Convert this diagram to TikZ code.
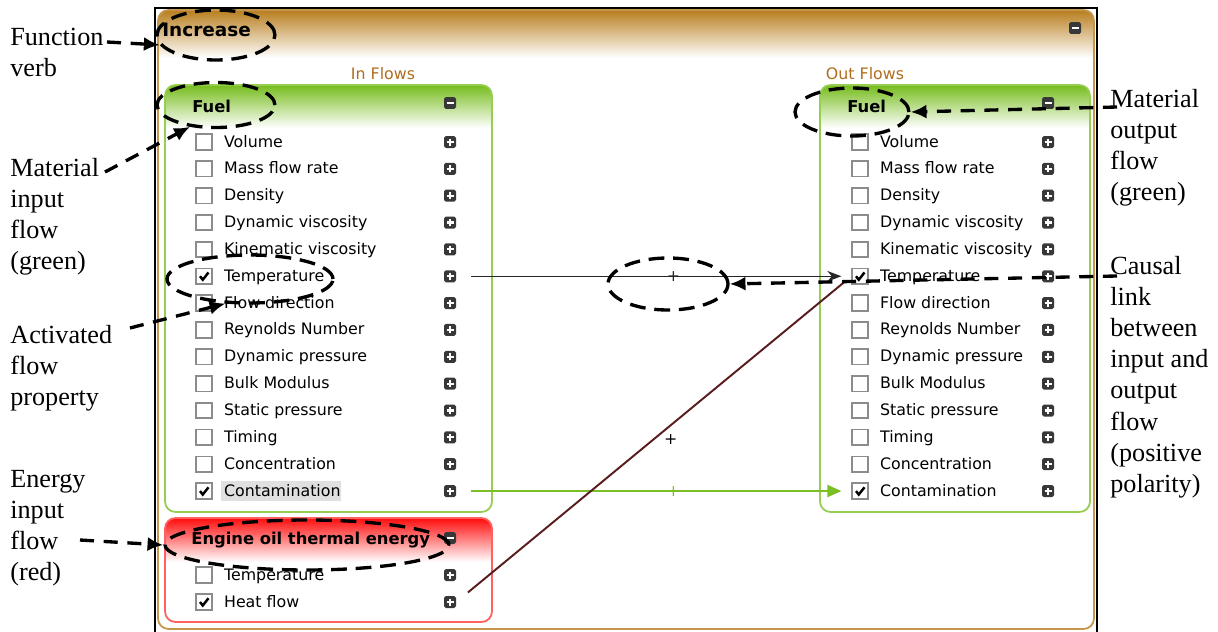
\documentclass[tikz,border=0pt]{standalone}
\usepackage{fontspec}
\setmainfont{Liberation Serif}
\newfontfamily\uifont{DejaVu Sans}
\usetikzlibrary{positioning, arrows.meta, shapes.geometric}
\definecolor{goldbar}{RGB}{184,126,30}
\definecolor{goldline}{RGB}{198,150,78}
\definecolor{goldtext}{RGB}{176,110,30}
\definecolor{greenbar}{RGB}{118,188,28}
\definecolor{greenline}{RGB}{150,206,82}
\definecolor{redbar}{RGB}{255,12,12}
\definecolor{redline}{RGB}{255,96,96}
\definecolor{linkbrown}{RGB}{88,28,30}
\definecolor{linkgreen}{RGB}{122,192,36}
% panel: x1,y1,x2,y2, bottom of header, header colour, border colour
\newcommand{\uipanel}[7]{%
  \begin{scope}
    \clip[rounded corners=6pt] (#1,#2) rectangle (#3,#4);
    \fill[white] (#1,#2) rectangle (#3,#4);
    \shade[top color=#6, bottom color=white] (#1,#2) rectangle (#3,#5);
  \end{scope}
  \draw[#7, line width=1pt, rounded corners=6pt] (#1,#2) rectangle (#3,#4);
}

\begin{document}
\begin{tikzpicture}[x=0.02cm, y=-0.02cm,
    ui/.style={font=\uifont\fontsize{9}{11}\selectfont},
    head/.style={font=\uifont\bfseries\fontsize{9.3}{11}\selectfont, anchor=west, inner sep=0pt},
    prop/.style={ui, anchor=base west, inner sep=1pt},
    chk/.style={draw=black!45, fill=white, line width=1pt, minimum size=0.31cm, inner sep=0pt},
    btn/.style={fill=black!78, rounded corners=1pt, minimum size=0.24cm, inner sep=0pt},
    plusbtn/.style={btn, path picture={
        \draw[white, line width=1.2pt]
          ([xshift=-0.07cm]path picture bounding box.center) -- ([xshift=0.07cm]path picture bounding box.center)
          ([yshift=-0.07cm]path picture bounding box.center) -- ([yshift=0.07cm]path picture bounding box.center);}},
    minusbtn/.style={btn, path picture={
        \draw[white, line width=1.2pt]
          ([xshift=-0.07cm]path picture bounding box.center) -- ([xshift=0.07cm]path picture bounding box.center);}},
    tick/.style={line width=1.4pt},
    link/.style={line width=0.8pt, shorten <=0.3cm, shorten >=0.2cm},
    ring/.style={ellipse, draw=black, line width=1.9pt, dash pattern=on 9pt off 5pt, inner sep=0pt},
    note/.style={line width=1.9pt, dash pattern=on 8pt off 5.5pt, -{Latex[length=9pt, width=8pt]}},
    side/.style={align=left, anchor=north west, inner sep=0pt, font=\fontsize{14.9}{17.7}\selectfont},
  ]
  \useasboundingbox (0,0) rectangle (1218,632);

  % function panel + frame
  \draw[line width=1.3pt] (155,632) -- (155,8) -- (1097,8) -- (1097,632);
  \uipanel{158}{10}{1094}{629}{58}{goldbar}{goldline}
  \node[head, font=\uifont\bfseries\fontsize{10.5}{12}\selectfont] (verb) at (162,30) {Increase};
  \node[minusbtn] (verbbtn) at (1075,28) {};
  \node[ui, goldtext] (inflows) at (383,74) {In Flows};
  \node[ui, goldtext] (outflows) at (865,74) {Out Flows};

  % flow panels
  \uipanel{165}{85}{492}{512}{128}{greenbar}{greenline}
  \uipanel{820}{85}{1090}{512}{128}{greenbar}{greenline}
  \uipanel{165}{518}{492}{622}{562}{redbar}{redline}
  \node[head] (fuelin) at (192,106) {Fuel};
  \node[minusbtn] (fuelinbtn) at (450,103) {};
  \node[head] (fuelout) at (847,106) {Fuel};
  \node[minusbtn] (fueloutbtn) at (1048,103) {};
  \node[head] (energy) at (191,540) {Engine oil thermal energy};
  \node[minusbtn] (energybtn) at (450,538) {};

  % flow properties
  \fill[black!12] (221,481) rectangle (341,501);
  \foreach \p [count=\i] in {Volume, Mass flow rate, Density, Dynamic viscosity,
      Kinematic viscosity, Temperature, Flow direction, Reynolds Number,
      Dynamic pressure, Bulk Modulus, Static pressure, Timing, Concentration, Contamination} {
    \pgfmathsetmacro\ry{142+(\i-1)*26.85}
    \node[chk] (lchk\i) at (204,\ry) {};
    \node[prop] (lprop\i) at (222,\ry+5) {\p};
    \node[plusbtn] (lplus\i) at (450,\ry) {};
    \node[chk] (rchk\i) at (860,\ry) {};
    \node[prop] (rprop\i) at (878,\ry+5) {\p};
    \node[plusbtn] (rplus\i) at (1048,\ry) {};
  }
  \node[chk] (echk1) at (204,575) {};
  \node[prop] (eprop1) at (222,580) {Temperature};
  \node[plusbtn] (eplus1) at (450,575) {};
  \node[chk] (echk2) at (204,602) {};
  \node[prop] (eprop2) at (222,607) {Heat flow};
  \node[plusbtn] (eplus2) at (450,602) {};

  % ticked boxes
  \foreach \c in {lchk6, lchk14, rchk6, rchk14, echk2}
    \draw[tick] ([xshift=-0.08cm]\c.center) -- ([xshift=-0.025cm, yshift=-0.07cm]\c.center)
      -- ([xshift=0.09cm, yshift=0.075cm]\c.center);

  % causal links
  \draw[link, black!85, -{Stealth[length=8pt]}] (lplus6.east) -- node[ui, pos=0.55] {+} (rchk6.west);
  \draw[link, linkgreen, -{Triangle[length=8pt, width=7pt]}] (lplus14.east) -- node[ui, pos=0.55] {+} (rchk14.west);
  \draw[link, linkbrown, line width=1.1pt] (eplus2.east) -- node[ui, black, pos=0.5, xshift=0.34cm] {+} (rchk6.west);

  % callout rings
  \node[ring, minimum width=2.36cm, minimum height=1.0cm] (verbring) at (216,35) {};
  \node[ring, minimum width=2.36cm, minimum height=0.9cm] (fuelinring) at (216,105) {};
  \node[ring, minimum width=3.32cm, minimum height=0.96cm] (tempring) at (250,279) {};
  \node[ring, minimum width=5.68cm, minimum height=1.0cm] (energyring) at (307,545) {};
  \node[ring, minimum width=2.28cm, minimum height=0.96cm] (fueloutring) at (852,112) {};
  \node[ring, minimum width=2.4cm, minimum height=1.04cm] (linkring) at (668,284) {};

  % callout texts
  \node[side] (verbtxt) at (10,28) {Function\\verb};
  \node[side] (matintxt) at (10,158) {Material\\input\\flow\\(green)};
  \node[side] (acttxt) at (10,325) {Activated\\flow\\property};
  \node[side] (energytxt) at (10,470) {Energy\\input\\flow\\(red)};
  \node[side] (matouttxt) at (1110,89) {Material\\output\\flow\\(green)};
  \node[side] (linktxt) at (1110,256) {Causal\\link\\between\\input and\\output\\flow\\(positive\\polarity)};
  \coordinate (verbtail) at (107,42);
  \coordinate (matintail) at (105,172);
  \coordinate (acttail) at (130,328);
  \coordinate (energytail) at (80,540);
  \coordinate (matouttail) at (1117,107);
  \coordinate (linktail) at (1117,276);
  \draw[note] (verbtail) -- (verbring.190);
  \draw[note] (matintail) -- (fuelinring.220);
  \draw[note] (acttail) -- (tempring.225);
  \draw[note] (energytail) -- (energyring.west);
  \draw[note] (matouttail) -- (fueloutring.east);
  \draw[note] (linktail) -- (linkring.east);
\end{tikzpicture}
\end{document}
